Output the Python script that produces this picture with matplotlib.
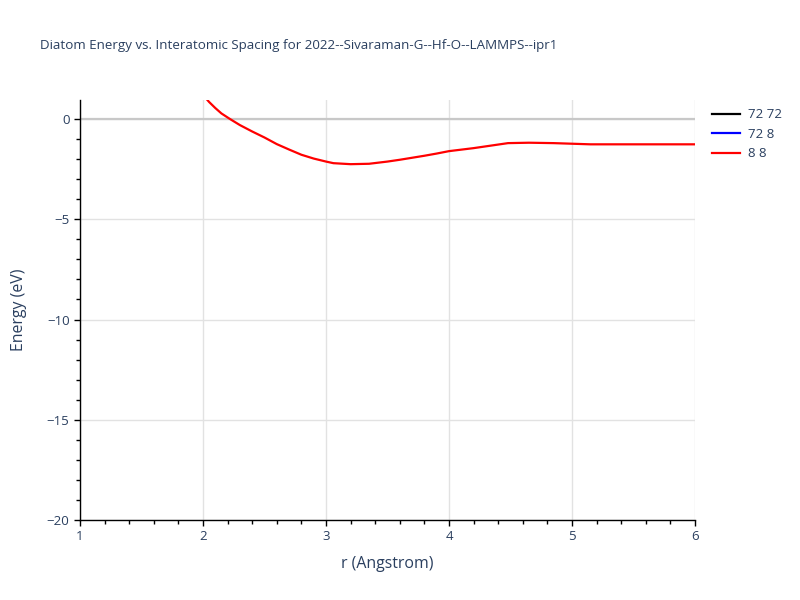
import matplotlib
matplotlib.use("Agg")
import matplotlib.pyplot as plt
from matplotlib.ticker import MultipleLocator

plt.rcParams['font.family'] = ['Open Sans', 'DejaVu Sans']

# Diatom energy curves (only the 8-8 pair lies inside the visible window)
r_72_72 = []
e_72_72 = []
r_72_8 = []
e_72_8 = []
r_8_8 = [1.98, 2.05, 2.1, 2.15, 2.22, 2.3, 2.4, 2.5, 2.6, 2.7, 2.8, 2.9, 3.0, 3.06,
         3.2, 3.35, 3.5, 3.6, 3.7, 3.8, 3.9, 4.0, 4.2, 4.48, 4.65, 4.85, 5.0, 5.15, 6.0]
e_8_8 = [1.35, 0.85, 0.55, 0.28, 0.0, -0.3, -0.62, -0.92, -1.25, -1.52, -1.78, -1.97, -2.12, -2.2,
         -2.25, -2.23, -2.12, -2.03, -1.93, -1.83, -1.72, -1.6, -1.45, -1.2, -1.18, -1.2, -1.23, -1.26, -1.26]

title = "Diatom Energy vs. Interatomic Spacing for 2022--Sivaraman-G--Hf-O--LAMMPS--ipr1"
txt_col = "#2a3f5f"

fig = plt.figure(figsize=(8, 6), dpi=100)
ax = fig.add_axes([0.1, 0.1333, 0.76875, 0.7])

ax.plot(r_72_72, e_72_72, color="black", lw=1.6, label="72 72")
ax.plot(r_72_8, e_72_8, color="blue", lw=1.6, label="72 8")
ax.plot(r_8_8, e_8_8, color="red", lw=1.6, label="8 8", zorder=3)

ax.set_xlim(1, 6)
ax.set_ylim(-20, 0.95)
ax.xaxis.set_major_locator(MultipleLocator(1))
ax.xaxis.set_minor_locator(MultipleLocator(0.2))
ax.yaxis.set_major_locator(MultipleLocator(5))
ax.yaxis.set_minor_locator(MultipleLocator(1))

ax.grid(True, which="major", color="#e2e2e2", lw=1)
ax.axhline(0, color="#c8c8c8", lw=1.6, zorder=1)
ax.set_axisbelow(True)

for s in ["top", "right"]:
    ax.spines[s].set_visible(False)
for s in ["left", "bottom"]:
    ax.spines[s].set_color("black")
    ax.spines[s].set_linewidth(1)

ax.tick_params(which="major", direction="out", length=4, width=1, color="black",
               labelcolor=txt_col, labelsize=9.5)
ax.tick_params(which="minor", direction="out", length=3, width=1, color="black")
ax.set_yticks([0, -5, -10, -15, -20])
ax.set_yticklabels(["0", "\u22125", "\u221210", "\u221215", "\u221220"])

ax.set_xlabel("r (Angstrom)", color=txt_col, fontsize=11.4, labelpad=9)
ax.set_ylabel("Energy (eV)", color=txt_col, fontsize=11.4, labelpad=14)

fig.text(40 / 800, 1 - 45 / 600, title, color=txt_col, fontsize=9.6, va="center", ha="left")

fig.legend(loc="upper left", bbox_to_anchor=(707 / 800, 1 - 103 / 600), frameon=False,
           fontsize=9.5, handlelength=2.1, labelspacing=0.5, borderaxespad=0,
           labelcolor=txt_col, handletextpad=0.6)

fig.savefig("out.png", dpi=100)
